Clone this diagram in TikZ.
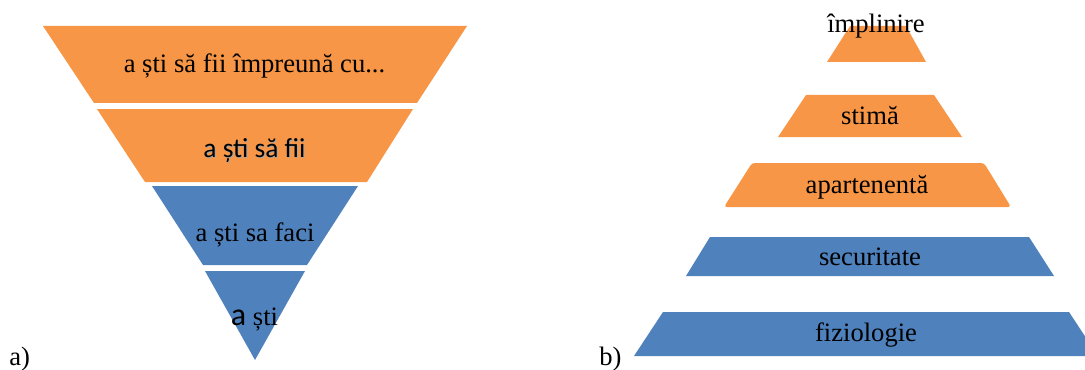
\documentclass[tikz,border=0pt]{standalone}
\usepackage{fontspec}
\setmainfont{Liberation Serif}
\newfontfamily\calibri{Carlito}
\definecolor{bandorange}{RGB}{247,150,70}
\definecolor{bandblue}{RGB}{79,129,189}
\newcommand{\bandfont}{\fontsize{13.3}{16}\selectfont}

\begin{document}
\begin{tikzpicture}[x=0.5pt, y=-0.5pt,
  txt/.style={anchor=base, inner sep=0pt, font=\bandfont},
  shadowtxt/.style={txt, text=black!35}]
  \useasboundingbox (0,0) rectangle (1085,369);

  % a) inverted pyramid
  \foreach \xa/\xb/\ya/\xc/\xd/\yb/\col in {
      43/467/26/94/417/103/bandorange,
      97/413/109/145/367/182/bandorange,
      152/358/186/203/307/265/bandblue}
    \fill[\col] (\xa,\ya) -- (\xb,\ya) -- (\xd,\yb) -- (\xc,\yb) -- cycle;
  \fill[bandblue] (205,271) -- (305,271) -- (255,360) -- cycle;

  \node[txt] (impreuna) at (254.5,73) {a ști să fii împreună cu...};
  \node[shadowtxt] (safiishadow) at (255.5,158) {\calibri\fontsize{13.7}{16}\selectfont a ști să fii};
  \node[txt] (safii) at (254.5,157) {\calibri\fontsize{13.7}{16}\selectfont a ști să fii};
  \node[txt] (safaci) at (255,241) {a ști sa faci};
  \node[txt] (sti) at (254.5,325) {{\calibri\fontsize{16}{16}\selectfont a} ști};
  \node[txt, anchor=base west] (lbla) at (9,365) {a)};

  % b) pyramid
  \foreach \xa/\xb/\ya/\xc/\xd/\yb/\col in {
      850/906/26/827/926/62/bandorange,
      806/934/95/778/962/137/bandorange,
      710/1029/237/686/1054/276/bandblue,
      663/1069/312/634/1098/356/bandblue}
    \fill[\col] (\xa,\ya) -- (\xb,\ya) -- (\xd,\yb) -- (\xc,\yb) -- cycle;
  \fill[bandorange, rounded corners=1.5pt] (752,163) -- (984,163) -- (1011,207) -- (724,207) -- cycle;

  \node[txt] (implinire) at (876,33) {împlinire};
  \node[txt] (stima) at (870,125) {stimă};
  \node[txt] (apartenenta) at (867,193) {apartenentă};
  \node[txt] (securitate) at (870,265) {securitate};
  \node[txt] (fiziologie) at (866,341) {fiziologie};
  \node[txt, anchor=base west] (lblb) at (599,365) {b)};
\end{tikzpicture}
\end{document}
